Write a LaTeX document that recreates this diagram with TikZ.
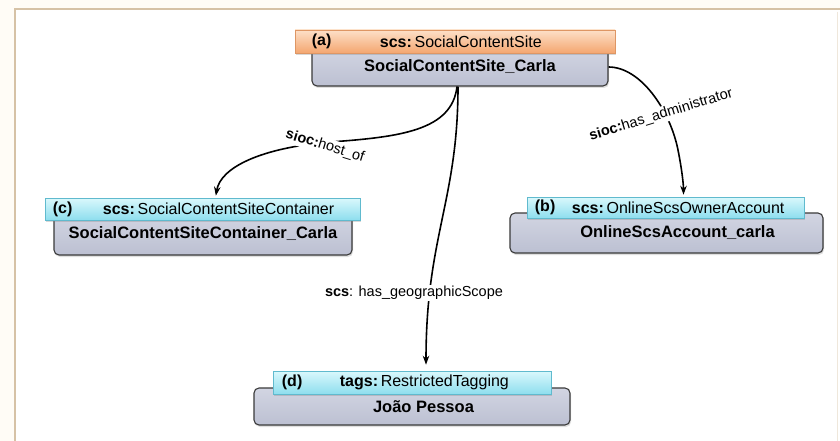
\documentclass[tikz,border=0pt]{standalone}
\usepackage{fontspec}
\setmainfont{Liberation Sans}
\usetikzlibrary{arrows.meta,shadows}
\definecolor{frameC}{RGB}{214,194,166}
\definecolor{creamC}{RGB}{255,252,246}
\definecolor{hoTop}{RGB}{253,224,200}
\definecolor{hoBot}{RGB}{244,166,112}
\definecolor{hoBorder}{RGB}{222,150,100}
\definecolor{hcTop}{RGB}{218,248,252}
\definecolor{hcBot}{RGB}{142,222,238}
\definecolor{hcBorder}{RGB}{96,186,206}
\definecolor{bdTop}{RGB}{210,213,226}
\definecolor{bdMid}{RGB}{238,240,246}
\definecolor{bdBot}{RGB}{188,192,210}
\definecolor{bdBorder}{RGB}{58,58,58}
\tikzset{
  bodybox/.style={draw=bdBorder, line width=1.1pt, rounded corners=5pt,
    top color=bdTop, middle color=bdMid, bottom color=bdBot,
    inner sep=0pt, font=\fontsize{16.5}{18}\selectfont\bfseries,
    drop shadow={shadow xshift=1pt, shadow yshift=-2pt, opacity=0.25}},
  hdrorange/.style={draw=hoBorder, line width=0.6pt, top color=hoTop, bottom color=hoBot,
    inner sep=0pt, drop shadow={shadow xshift=1pt, shadow yshift=-2pt, opacity=0.3}},
  hdrcyan/.style={draw=hcBorder, line width=0.6pt, top color=hcTop, bottom color=hcBot,
    inner sep=0pt, drop shadow={shadow xshift=1pt, shadow yshift=-2pt, opacity=0.3}},
  tagtext/.style={anchor=west, inner sep=0pt, font=\fontsize{16}{18}\selectfont\bfseries},
  typetext/.style={anchor=west, inner sep=0pt, font=\fontsize{16}{18}\selectfont},
  edgelbl/.style={fill=white, inner sep=1.5pt, font=\fontsize{14.5}{16}\selectfont},
  conn/.style={line width=1.6pt, -{Stealth[length=9pt,width=6.5pt]}}
}
\begin{document}
\begin{tikzpicture}[x=1pt,y=-1pt]
\useasboundingbox (0,0) rectangle (840,441);
\fill[white] (0,0) rectangle (840,441);
\fill[creamC] (0,0) rectangle (840,9);
\fill[creamC] (0,0) rectangle (15,441);
\draw[frameC, line width=1.5pt] (15,441) -- (15,9) -- (840,9);
\draw[frameC!40, line width=0.6pt] (837,12) -- (837,441);

% node (a)
\node[bodybox, minimum width=296pt, minimum height=38pt] (aB) at (460,67) {SocialContentSite\_Carla};
\node[hdrorange, minimum width=320pt, minimum height=23pt] (aH) at (455,41.5) {};
\node[tagtext] (aL) at ([xshift=17pt]aH.west) {(a)};
\node[typetext] (aT) at ([xshift=85pt]aH.west) {\textbf{scs:}\,SocialContentSite};

% node (c)
\node[bodybox, minimum width=298pt, minimum height=42pt] (cB) at (203,234) {SocialContentSiteContainer\_Carla};
\node[hdrcyan, minimum width=315pt, minimum height=22pt] (cH) at (202.5,209) {};
\node[tagtext] (cL) at ([xshift=8pt]cH.west) {(c)};
\node[typetext] (cT) at ([xshift=58pt]cH.west) {\textbf{scs:}\,SocialContentSiteContainer};

% node (b)
\node[bodybox, minimum width=313pt, minimum height=40pt] (bB) at (666.5,233) {\hspace*{22pt}OnlineScsAccount\_carla};
\node[hdrcyan, minimum width=277pt, minimum height=21pt] (bH) at (665.5,207.5) {};
\node[tagtext] (bL) at ([xshift=8pt]bH.west) {(b)};
\node[typetext] (bT) at ([xshift=45pt]bH.west) {\textbf{scs:}\,OnlineScsOwnerAccount};

% node (d)
\node[bodybox, minimum width=316pt, minimum height=37pt] (dB) at (412,406.5) {\hspace*{23pt}João Pessoa};
\node[hdrcyan, minimum width=278pt, minimum height=23pt] (dH) at (412,382.5) {};
\node[tagtext] (dL) at ([xshift=9pt]dH.west) {(d)};
\node[typetext] (dT) at ([xshift=67pt]dH.west) {\textbf{tags:}\,RestrictedTagging};

% connectors
\draw[conn, shorten >=2pt] ([xshift=-3pt]aB.south) .. controls +(-5,44) and +(70,-5) .. (330,142)
  .. controls +(-70,6) and +(5,-30) .. ([xshift=13pt]cH.north);
\draw[conn, shorten >=2pt] (aB.east) .. controls +(32,0) and +(-8,-40) .. (678,150)
  .. controls +(4,20) and +(0,-12) .. ([xshift=18pt]bH.north);
\draw[conn, shorten >=6pt] ([xshift=-2pt]aB.south) .. controls +(0,114) and +(0,-134) .. ([xshift=14pt]dH.north);

% connector labels
\node[edgelbl, rotate=-17] (l1) at (325,146) {\textbf{sioc:}host\_of};
\node[edgelbl, rotate=17] (l2) at (661,115) {\textbf{sioc:}has\_administrator};
\node[edgelbl] (l3) at (414,293) {\textbf{scs}: has\_geographicScope};
\end{tikzpicture}
\end{document}
